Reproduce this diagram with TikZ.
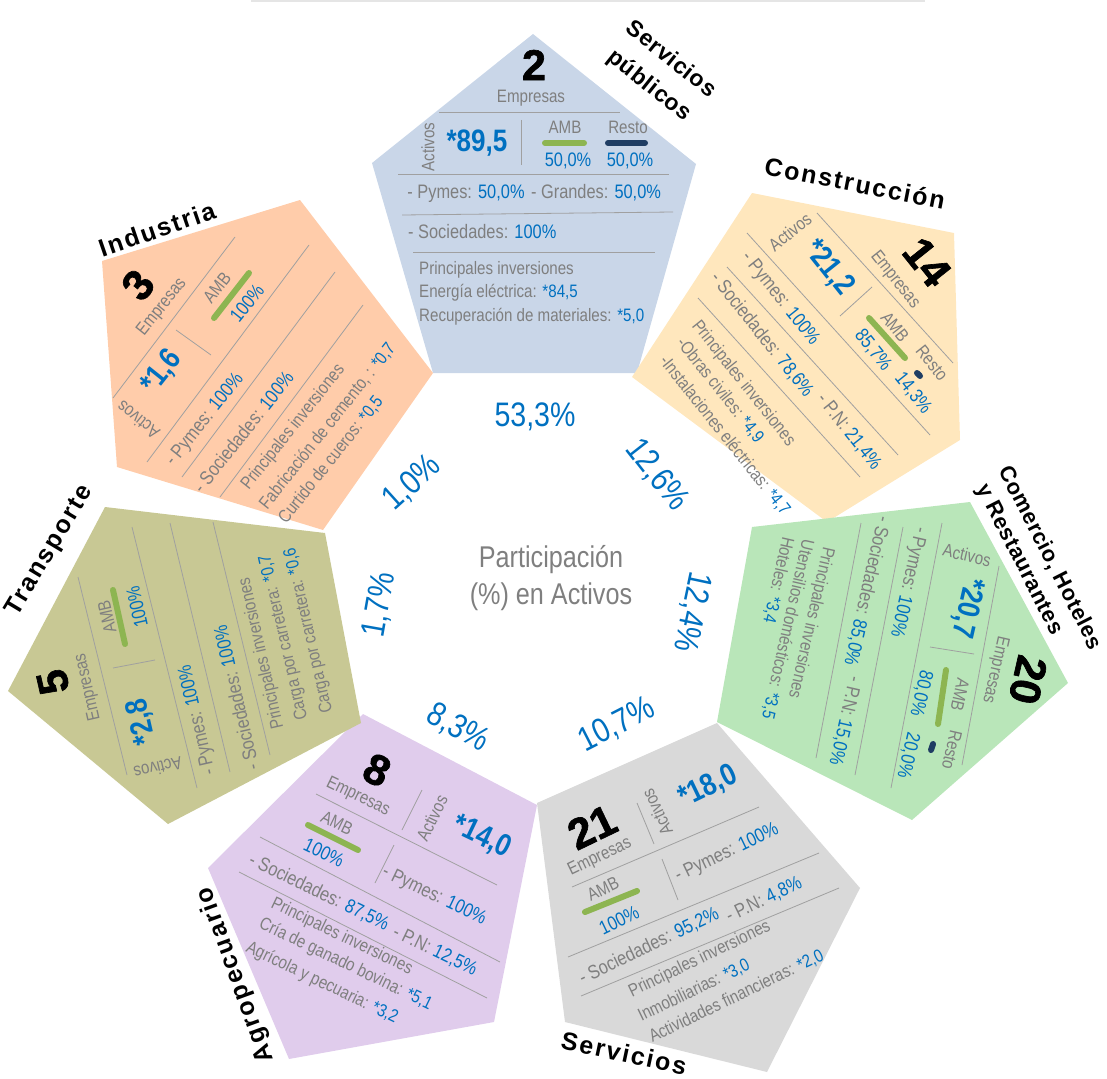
\documentclass[tikz,border=0pt]{standalone}
\usepackage{fontspec}
\newfontfamily\nf[FakeStretch=0.84]{Liberation Sans}
\newfontfamily\tf[LetterSpace=8]{Liberation Sans}
\newfontfamily\tfb[LetterSpace=3]{Liberation Sans}
\newfontfamily\cf[BoldFeatures={FakeBold=1.5}]{Liberation Sans}
\definecolor{blu}{HTML}{0070C0}
\definecolor{txtgray}{HTML}{7F7F7F}
\definecolor{lingray}{HTML}{A0A0A0}
\definecolor{barg}{HTML}{8DB551}
\definecolor{barn}{HTML}{1F3D63}
\definecolor{c0}{HTML}{C9D6E8}
\definecolor{c1}{HTML}{FFE7BD}
\definecolor{c2}{HTML}{B9E6B9}
\definecolor{c3}{HTML}{D9D9D9}
\definecolor{c4}{HTML}{E0CCEC}
\definecolor{c5}{HTML}{C8C894}
\definecolor{c6}{HTML}{FFCCAA}
\newcommand{\bv}[1]{\textcolor{blu}{#1}}
\tikzset{
 lab/.style={text=txtgray, font=\nf\fontsize{18}{20}\selectfont, inner sep=0pt},
 itm/.style={text=txtgray, font=\nf\fontsize{19.5}{21}\selectfont, inner sep=0pt},
 inv/.style={text=txtgray, font=\nf\fontsize{18}{20}\selectfont, inner sep=0pt},
 big/.style={text=blu, font=\nf\bfseries\fontsize{31}{33}\selectfont, inner sep=0pt},
 cnt/.style={text=black, font=\cf\bfseries\fontsize{43}{45}\selectfont, inner sep=0pt},
 val/.style={text=blu, font=\nf\fontsize{19.5}{21}\selectfont, inner sep=0pt},
 pct/.style={text=blu, font=\nf\fontsize{34}{36}\selectfont, inner sep=0pt},
 ctr/.style={text=txtgray, font=\nf\fontsize{30}{32}\selectfont, inner sep=0pt},
 ttl/.style={text=black, font=\tf\bfseries\fontsize{25}{27}\selectfont, inner sep=0pt},
 ttlb/.style={text=black, font=\tfb\bfseries\fontsize{23}{25}\selectfont, inner sep=0pt},
 ttlc/.style={text=black, font=\tfb\bfseries\fontsize{22}{24}\selectfont, inner sep=0pt},
 sep/.style={draw=lingray, line width=0.8pt},
 gbar/.style={draw=barg, line width=6pt, line cap=round},
 nbar/.style={draw=barn, line width=6pt, line cap=round},
}
\begin{document}
\begin{tikzpicture}[x=1pt,y=1pt]
\useasboundingbox (0,0) rectangle (1107,-1078);
\draw[draw=black!10, line width=2pt] (251,-1.5) -- (925,-1.5);
% ---------- Pentagon 0: Servicios publicos
\fill[c0] (533,-34) -- (696,-164) -- (637,-373) -- (433,-373) -- (372,-163) -- cycle;
\node[cnt] (n0) at (534,-65) {2};
\node[lab] (e0) at (531,-98) {Empresas};
\draw[sep] (439,-112) -- (620,-112);
\node[lab,rotate=90] (a0) at (428,-147) {Activos};
\node[big] (v0) at (477,-143) {*89,5};
\draw[sep] (521,-120) -- (521,-165);
\node[lab] (m0) at (565,-127) {AMB};
\draw[gbar] (545,-143) -- (584,-143);
\node[val] (mp0) at (568,-161) {50,0\%};
\node[lab] (r0) at (628,-127) {Resto};
\draw[nbar] (608,-143) -- (645,-143);
\node[val] (rp0) at (630,-161) {50,0\%};
\draw[sep] (398,-174) -- (669,-174);
\node[itm] (py0) at (466,-194) {- Pymes: \bv{50,0\%}};
\node[itm] (gr0) at (596,-193) {- Grandes: \bv{50,0\%}};
\draw[sep] (402,-215) -- (673,-212);
\node[itm,anchor=west] (so0) at (408,-232) {- Sociedades: \bv{100\%}};
\draw[sep] (413,-252) -- (655,-252);
\node[inv,anchor=west] (i0a) at (419,-270) {Principales inversiones};
\node[inv,anchor=west] (i0b) at (419,-293) {Energía eléctrica: \bv{*84,5}};
\node[inv,anchor=west] (i0c) at (419,-317) {Recuperación de materiales: \bv{*5,0}};
\node[ttlb,rotate=-38.5] (t0a) at (672,-58) {Servicios};
\node[ttlb,rotate=-38.5] (t0b) at (649,-86) {públicos};
% ---------- Pentagon 1: Construccion
\fill[c1] (752,-193) -- (954,-233) -- (960,-440) -- (827,-522) -- (632,-377) -- cycle;
\node[lab,rotate=38.57] (a1) at (790,-232) {Activos};
\node[big,rotate=-51.43] (v1) at (829,-268) {*21,2};
\node[cnt,rotate=-51.43] (n1) at (927,-262) {14};
\node[lab,rotate=-51.43] (e1) at (895,-280) {Empresas};
\draw[sep] (817,-213) -- (953,-363);
\draw[sep] (747,-233) -- (930,-435);
\draw[sep] (840,-316) -- (872,-287);
\draw[sep] (727,-267) -- (898,-455);
\draw[sep] (698,-298) -- (860,-477);
\node[lab,rotate=-51.43] (m1) at (895,-327) {AMB};
\draw[gbar] (869,-318) -- (905,-358);
\node[val,rotate=-51.43] (mp1) at (873,-350) {85,7\%};
\node[lab,rotate=-51.43] (r1) at (932,-363) {Resto};
\draw[nbar] (917,-373) -- (920,-376);
\node[val,rotate=-51.43] (rp1) at (913,-393) {14,3\%};
\node[itm,rotate=-51.43] (py1) at (780,-299) {- Pymes: \bv{100\%}};
\node[itm,rotate=-51.43] (so1) at (762,-335) {- Sociedades: \bv{78,6\%}};
\node[itm,rotate=-51.43] (pn1) at (849,-432) {- P.N: \bv{21,4\%}};
\node[inv,rotate=-51.43,anchor=west] (i1a) at (695,-323) {Principales inversiones};
\node[inv,rotate=-51.43,anchor=west] (i1b) at (680,-340) {-Obras civiles: \bv{*4,9}};
\node[inv,rotate=-51.43,anchor=west] (i1c) at (663,-358) {-Instalaciones eléctricas: \bv{*4,7}};
\node[ttl,rotate=-11] (t1) at (855,-183) {Construcción};
% ---------- Pentagon 2: Comercio
\fill[c2] (970,-502) -- (1068,-683) -- (912,-820) -- (717,-722) -- (752,-527) -- cycle;
\node[lab,rotate=-12.86] (a2) at (967,-555) {Activos};
\node[big,rotate=-102.86] (v2) at (967,-608) {*20,7};
\node[lab,rotate=-102.86] (e2) at (995,-670) {Empresas};
\node[cnt,rotate=-102.86] (n2) at (1028,-680) {20};
\draw[sep] (999,-566) -- (962,-765);
\draw[sep] (930,-647) -- (974,-654);
\draw[sep] (942,-523) -- (891,-788);
\draw[sep] (903,-527) -- (855,-775);
\draw[sep] (861,-523) -- (816,-758);
\node[lab,rotate=-102.86] (m2) at (960,-695) {AMB};
\draw[gbar] (946,-670) -- (938,-724);
\node[val,rotate=-102.86] (mp2) at (921,-693) {80,0\%};
\node[lab,rotate=-102.86] (r2) at (952,-750) {Resto};
\draw[nbar] (933,-744) -- (931,-750);
\node[val,rotate=-102.86] (rp2) at (908,-755) {20,0\%};
\node[itm,rotate=-102.86] (py2) at (908,-582) {- Pymes: \bv{100\%}};
\node[itm,rotate=-102.86] (so2) at (867,-591) {- Sociedades: \bv{85,0\%}};
\node[itm,rotate=-102.86] (pn2) at (845,-721) {- P.N: \bv{15,0\%}};
\node[inv,rotate=-102.86,anchor=west] (i2a) at (828,-547) {Principales inversiones};
\node[inv,rotate=-102.86,anchor=west] (i2b) at (808,-540) {Utensilios domésticos: \bv{*3,5}};
\node[inv,rotate=-102.86,anchor=west] (i2c) at (788,-537) {Hoteles: \bv{*3,4}};
\node[ttlc,rotate=-63] (t2a) at (1050,-558) {Comercio, Hoteles};
\node[ttlc,rotate=-63] (t2b) at (1019,-560) {y Restaurantes};
% ---------- Pentagon 3: Servicios
\fill[c3] (537,-803) -- (717,-723) -- (860,-888) -- (767,-1072) -- (565,-1022) -- cycle;
\node[cnt,rotate=25.71] (n3) at (592,-827) {21};
\node[lab,rotate=25.71] (e3) at (600,-857) {Empresas};
\draw[sep] (637,-803) -- (654,-844);
\node[lab,rotate=115.71] (a3) at (657,-812) {Activos};
\node[big,rotate=25.71] (v3) at (708,-787) {*18,0};
\draw[sep] (572,-887) -- (759,-807);
\draw[sep] (662,-859) -- (678,-900);
\node[lab,rotate=25.71] (m3) at (603,-889) {AMB};
\draw[gbar] (585,-912) -- (637,-891);
\node[val,rotate=25.71] (mp3) at (619,-920) {100\%};
\node[itm,rotate=25.71] (py3) at (727,-853) {- Pymes: \bv{100\%}};
\draw[sep] (568,-957) -- (819,-853);
\node[itm,rotate=25.71] (so3) at (649,-946) {- Sociedades: \bv{95,2\%}};
\node[itm,rotate=25.71] (pn3) at (764,-900) {- P.N: \bv{4,8\%}};
\draw[sep] (581,-996) -- (839,-888);
\node[inv,rotate=25.71,anchor=west] (i3a) at (630,-993) {Principales inversiones};
\node[inv,rotate=25.71,anchor=west] (i3b) at (639,-1017) {Inmobiliarias: \bv{*3,0}};
\node[inv,rotate=25.71,anchor=west] (i3c) at (650,-1038) {Actividades financieras: \bv{*2,0}};
\node[ttl,rotate=-12] (t3) at (624,-1053) {Servicios};
% ---------- Pentagon 4: Agropecuario
\fill[c4] (363,-714) -- (537,-805) -- (494,-1022) -- (289,-1059) -- (208,-868) -- cycle;
\node[cnt,rotate=-25.71] (n4) at (377,-770) {8};
\node[lab,rotate=-25.71] (e4) at (358,-797) {Empresas};
\draw[sep] (422,-790) -- (402,-830);
\node[lab,rotate=64.29] (a4) at (432,-818) {Activos};
\node[big,rotate=-25.71] (v4) at (482,-837) {*14,0};
\draw[sep] (316,-794) -- (497,-885);
\node[lab,rotate=-25.71] (m4) at (337,-823) {AMB};
\draw[gbar] (308,-825) -- (358,-850);
\node[val,rotate=-25.71] (mp4) at (324,-853) {100\%};
\draw[sep] (394,-845) -- (375,-883);
\node[itm,rotate=-25.71] (py4) at (434,-896) {- Pymes: \bv{100\%}};
\draw[sep] (260,-837) -- (500,-962);
\node[itm,rotate=-25.71] (so4) at (319,-892) {- Sociedades: \bv{87,5\%}};
\node[itm,rotate=-25.71] (pn4) at (435,-951) {- P.N: \bv{12,5\%}};
\draw[sep] (239,-872) -- (487,-998);
\node[inv,rotate=-25.71,anchor=west] (i4a) at (272,-903) {Principales inversiones};
\node[inv,rotate=-25.71,anchor=west] (i4b) at (260,-923) {Cría de ganado bovina: \bv{*5,1}};
\node[inv,rotate=-25.71,anchor=west] (i4c) at (247,-947) {Agrícola y pecuaria: \bv{*3,2}};
\node[ttl,rotate=110] (t4) at (236,-975) {Agropecuario};
% ---------- Pentagon 5: Transporte
\fill[c5] (105,-507) -- (325,-533) -- (361,-723) -- (168,-824) -- (8,-691) -- cycle;
\node[cnt,rotate=102.86] (n5) at (53,-682) {5};
\node[lab,rotate=102.86] (e5) at (88,-687) {Empresas};
\draw[sep] (78,-577) -- (127,-775);
\node[lab,rotate=102.86] (m5) at (107,-617) {AMB};
\draw[gbar] (113,-590) -- (125,-644);
\node[val,rotate=102.86] (mp5) at (137,-607) {100\%};
\draw[sep] (113,-668) -- (155,-660);
\node[lab,rotate=192.86] (a5) at (158,-768) {Activos};
\node[big,rotate=102.86] (v5) at (142,-722) {*2,8};
\draw[sep] (132,-527) -- (197,-788);
\node[itm,rotate=102.86] (py5) at (198,-720) {- Pymes: \bv{100\%}};
\draw[sep] (170,-523) -- (230,-772);
\node[itm,rotate=102.86] (so5) at (236,-698) {- Sociedades: \bv{100\%}};
\draw[sep] (213,-522) -- (270,-755);
\node[inv,rotate=102.86,anchor=west] (i5a) at (279,-729) {Principales inversiones};
\node[inv,rotate=102.86,anchor=west] (i5b) at (303,-720) {Carga por carretera: \bv{*0,7}};
\node[inv,rotate=102.86,anchor=west] (i5c) at (328,-713) {Carga por carretera: \bv{*0,6}};
\node[ttl,rotate=59] (t5) at (50,-551) {Transporte};
% ---------- Pentagon 6: Industria
\fill[c6] (102,-261) -- (300,-200) -- (433,-373) -- (323,-530) -- (117,-467) -- cycle;
\node[cnt,rotate=51.43] (n6) at (138,-285) {3};
\node[lab,rotate=51.43] (e6) at (162,-307) {Empresas};
\draw[sep] (235,-237) -- (113,-398);
\node[lab,rotate=51.43] (m6) at (217,-288) {AMB};
\draw[gbar] (214,-318) -- (249,-273);
\node[val,rotate=51.43] (mp6) at (247,-303) {100\%};
\draw[sep] (176,-330) -- (211,-355);
\node[lab,rotate=141.43] (a6) at (138,-420) {Activos};
\node[big,rotate=51.43] (v6) at (162,-372) {*1,6};
\draw[sep] (309,-245) -- (147,-462);
\node[itm,rotate=51.43] (py6) at (205,-420) {- Pymes: \bv{100\%}};
\draw[sep] (335,-272) -- (182,-477);
\node[itm,rotate=51.43] (so6) at (243,-432) {- Sociedades: \bv{100\%}};
\draw[sep] (363,-305) -- (220,-497);
\node[inv,rotate=51.43,anchor=west] (i6a) at (245,-488) {Principales inversiones};
\node[inv,rotate=51.43,anchor=west] (i6b) at (263,-507) {Fabricación de cemento, : \bv{*0,7}};
\node[inv,rotate=51.43,anchor=west] (i6c) at (282,-521) {Curtido de cueros: \bv{*0,5}};
\node[ttl,rotate=19] (t6) at (157,-229) {Industria};
% ---------- Centre
\node[ctr] (cta) at (551,-560) {Participación};
\node[ctr] (ctb) at (551,-597) {(\%) en Activos};
\node[pct] (q0) at (535,-417) {53,3\%};
\node[pct,rotate=-52] (q1) at (657,-475) {12,6\%};
\node[pct,rotate=-102] (q2) at (692,-612) {12,4\%};
\node[pct,rotate=27] (q3) at (617,-725) {10,7\%};
\node[pct,rotate=-30] (q4) at (458,-728) {8,3\%};
\node[pct,rotate=80] (q5) at (380,-605) {1,7\%};
\node[pct,rotate=42] (q6) at (412,-483) {1,0\%};
\end{tikzpicture}
\end{document}
